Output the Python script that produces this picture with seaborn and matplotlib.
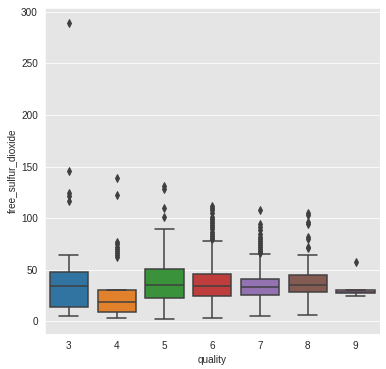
import matplotlib
matplotlib.use("Agg")
import matplotlib.pyplot as plt
import seaborn as sns
import numpy as np
import pandas as pd

# box summary, one entry per quality level
quality = [3, 4, 5, 6, 7, 8, 9]
whis_lo = [5, 3, 2, 3, 5, 6, 24]
q1 = [14, 9, 22.5, 24, 25, 28, 27]
median = [34, 18.5, 35, 34, 33, 35, 28]
q3 = [47.5, 30, 50.5, 46, 41, 44.5, 30]
whis_hi = [64, 62, 89, 78, 65, 64, 30]
outliers = [
    [117, 121, 124, 146, 289],
    [64.5, 66, 68, 70, 72, 75, 77, 122.5, 138.5],
    [101, 110, 128, 131],
    [79.5, 81, 83, 85, 87, 89, 91, 93, 95, 97, 99, 101, 105, 108, 110, 112],
    [66, 67, 68, 70, 72, 74, 76, 78, 80, 82, 85, 88, 91, 94, 108],
    [71, 72, 80, 82, 94, 96, 103, 105],
    [57],
]

# rebuild a sample for each level that gives back those quartiles/whiskers
rows = []
K = 50
for i, q in enumerate(quality):
    vals = [whis_lo[i]] + [q1[i]] * K + [median[i]] * K + [q3[i]] * K + [whis_hi[i]] + outliers[i]
    for v in vals:
        rows.append((q, v))
df = pd.DataFrame(rows, columns=["quality", "free_sulfur_dioxide"])

sns.set_style("darkgrid", {"axes.facecolor": "#E5E5E5"})
plt.rcParams["font.family"] = ["Liberation Sans", "DejaVu Sans"]

gray = "#3f3f3f"
fig = plt.figure(figsize=(386 / 72, 369 / 72), dpi=72)
fig.subplots_adjust(left=45 / 386, right=379.5 / 386, bottom=1 - 334 / 369, top=1 - 8.3 / 369)
ax = fig.add_subplot(111)
sns.boxplot(data=df, x="quality", y="free_sulfur_dioxide", hue="quality",
            palette="tab10", legend=False, linewidth=1.5, linecolor=gray,
            fliersize=5,
            flierprops={"marker": "d", "markerfacecolor": gray, "markeredgecolor": gray},
            ax=ax)

fig.savefig("out.png", dpi=72)
